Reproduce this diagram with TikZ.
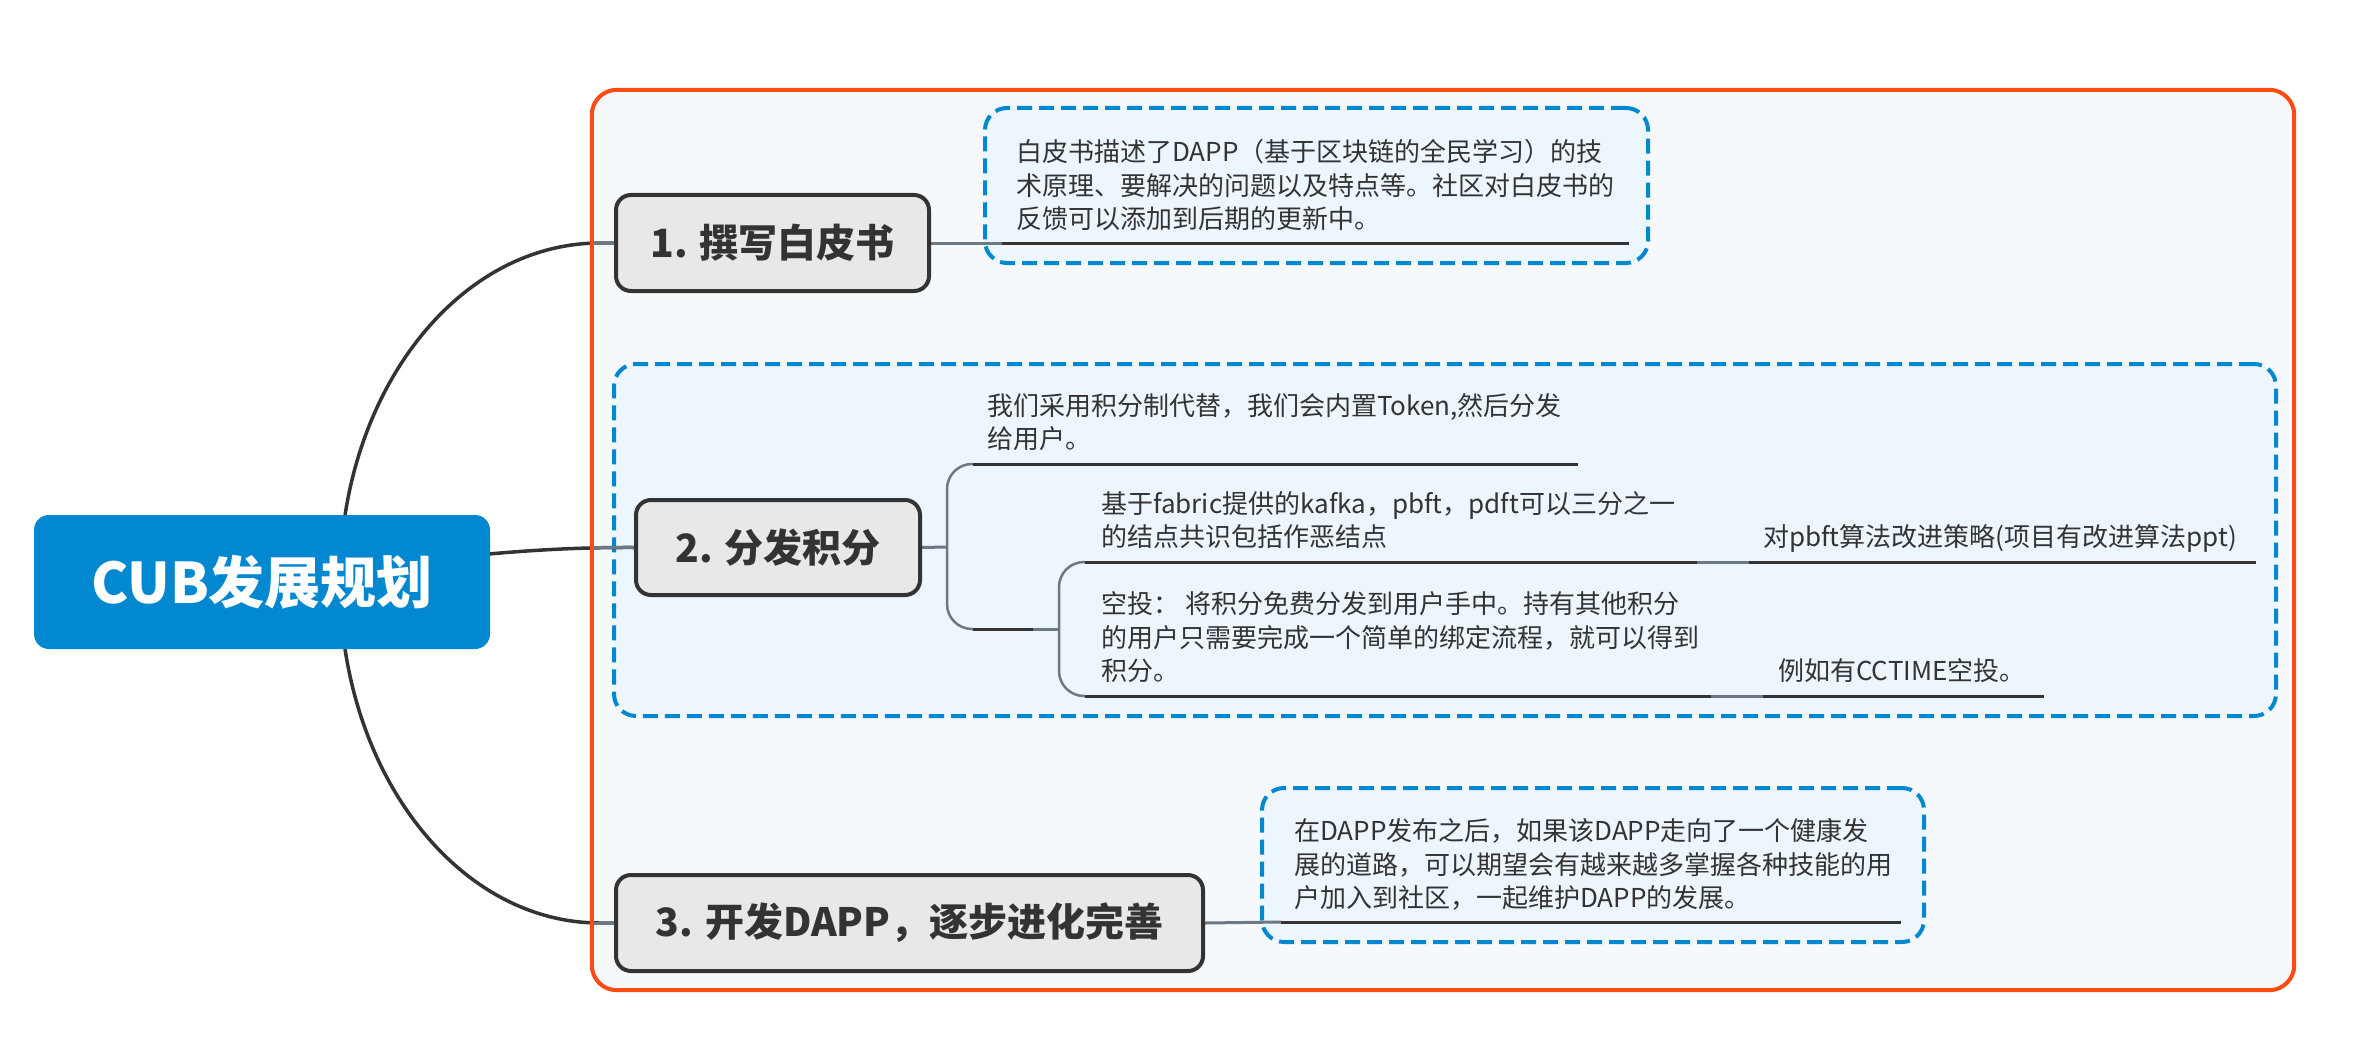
\documentclass[tikz,border=0pt]{standalone}
\usepackage{fontspec}
\setmainfont{Noto Sans CJK SC}
\definecolor{orangeb}{HTML}{FF4A12}
\definecolor{panelfill}{HTML}{F5F9FC}
\definecolor{dashblue}{HTML}{0288D1}
\definecolor{notefill}{HTML}{EEF6FD}
\definecolor{rootblue}{HTML}{0288D1}
\definecolor{topicfill}{HTML}{E8E8E8}
\definecolor{darkline}{HTML}{333333}
\definecolor{grayline}{HTML}{6E7885}
\definecolor{textdark}{HTML}{333333}
\pgfdeclarelayer{back}
\pgfdeclarelayer{links}
\pgfdeclarelayer{framelayer}
\pgfsetlayers{back,links,framelayer,main}
\tikzset{
  rootnode/.style={fill=rootblue, rounded corners=15pt, inner sep=0pt, text=white,
    font=\bfseries\fontsize{56}{64}\selectfont, minimum width=456pt, minimum height=134pt},
  topic/.style={draw=darkline, line width=4pt, fill=topicfill, rounded corners=15pt,
    inner sep=0pt, text=textdark, font=\bfseries\fontsize{39}{46}\selectfont, minimum height=96pt},
  notebox/.style={draw=dashblue, fill=notefill, line width=4pt, dash pattern=on 15pt off 7pt,
    rounded corners=22pt, inner sep=0pt},
  panel/.style={fill=panelfill, rounded corners=25pt, inner sep=0pt},
  notetext/.style={anchor=south west, inner sep=0pt, align=left, text=textdark,
    font=\fontsize{26}{33.5}\selectfont},
  rootlink/.style={draw=darkline, line width=3.5pt},
  graylink/.style={draw=grayline, line width=3pt},
  bracketlink/.style={draw=grayline, line width=2.5pt, rounded corners=25pt},
  underline/.style={draw=darkline, line width=3pt}
}
\begin{document}
\begin{tikzpicture}[x=1pt,y=-1pt]
\useasboundingbox (0,0) rectangle (2373,1051);

% containers (background layer)
\begin{pgfonlayer}{back}
  \fill[white] (0,0) rectangle (2373,1051);
  \node[panel, minimum width=1702pt, minimum height=900pt] (panel) at (1443,540) {};
  \node[notebox, minimum width=663pt, minimum height=155pt] (nb1) at (1316.5,185.5) {};
  \node[notebox, minimum width=1662pt, minimum height=352pt] (nb2) at (1445,540) {};
  \node[notebox, minimum width=662pt, minimum height=154pt] (nb3) at (1593,865) {};
\end{pgfonlayer}

% main nodes
\node[rootnode] (root) at (262,582) {CUB发展规划};
\node[topic, minimum width=313pt] (n1) at (772.5,243) {1. 撰写白皮书};
\node[topic, minimum width=284pt, minimum height=95pt] (n2) at (778,547.5) {2. 分发积分};
\node[topic, minimum width=587pt] (n3) at (909.5,923) {3. 开发DAPP，逐步进化完善};

% texts
\node[notetext] (t1) at (1016,239) {\strut 白皮书描述了DAPP（基于区块链的全民学习）的技\\
\strut 术原理、要解决的问题以及特点等。社区对白皮书的\\
\strut 反馈可以添加到后期的更新中。};
\node[notetext] (t2a) at (987,459) {\strut 我们采用积分制代替，我们会内置Token,然后分发\\
\strut 给用户。};
\node[notetext] (t2b1) at (1101,557) {\strut 基于fabric提供的kafka，pbft，pdft可以三分之一\\
\strut 的结点共识包括作恶结点};
\node[notetext] (t2b1a) at (1763,557) {\strut 对pbft算法改进策略(项目有改进算法ppt)};
\node[notetext] (t2b2) at (1101,691) {\strut 空投： 将积分免费分发到用户手中。持有其他积分\\
\strut 的用户只需要完成一个简单的绑定流程，就可以得到\\
\strut 积分。};
\node[notetext] (t2b2a) at (1778,691) {\strut 例如有CCTIME空投。};
\node[notetext] (t3) at (1294,918) {\strut 在DAPP发布之后，如果该DAPP走向了一个健康发\\
\strut 展的道路，可以期望会有越来越多掌握各种技能的用\\
\strut 户加入到社区，一起维护DAPP的发展。};

% coordinates for connector ends
\coordinate (k1) at (600,243);
\coordinate (k3) at (600,923);
\coordinate (u1s) at (1002,243);
\coordinate (u1e) at (1629,243);
\coordinate (b1x) at (947,547);
\coordinate (u2at) at (973,464);
\coordinate (u2ae) at (1578,464);
\coordinate (u2bs) at (973,629);
\coordinate (u2be) at (1033,629);
\coordinate (b2x) at (1059,629);
\coordinate (u2b1s) at (1085,562);
\coordinate (u2b1e) at (1697,562);
\coordinate (u2b1as) at (1749,562);
\coordinate (u2b1ae) at (2256,562);
\coordinate (u2b2s) at (1085,696);
\coordinate (u2b2e) at (1711,696);
\coordinate (u2b2as) at (1763,696);
\coordinate (u2b2ae) at (2044,696);
\coordinate (u3s) at (1281,922);
\coordinate (u3e) at (1901,922);

\begin{pgfonlayer}{links}
  % root curves
  \draw[rootlink] ([xshift=78pt]root.center) .. controls (340,395) and (456,243) .. (k1) -- (n1.west);
  \draw[rootlink] (root.center) .. controls (420,560) and (520,547) .. (n2.west);
  \draw[rootlink] ([xshift=78pt]root.center) .. controls (340,770) and (456,923) .. (k3) -- (n3.west);
  \draw[graylink] ([xshift=-24pt]n1.west) -- (n1.west);
  \draw[graylink] ([xshift=-44pt]n2.west) -- (n2.west);
  \draw[graylink] ([xshift=-24pt]n3.west) -- (n3.west);
  % branch 1
  \draw[graylink] (n1.east) -- (u1s);
  \draw[underline] (u1s) -- (u1e);
  % branch 2
  \draw[graylink] (n2.east) -- (b1x);
  \draw[bracketlink] (u2at) -- (947,464) -- (947,629) -- (u2bs);
  \draw[underline] (u2at) -- (u2ae);
  \draw[underline] (u2bs) -- (u2be);
  \draw[graylink] (u2be) -- (b2x);
  \draw[bracketlink] (u2b1s) -- (1059,562) -- (1059,696) -- (u2b2s);
  \draw[underline] (u2b1s) -- (u2b1e);
  \draw[graylink] (u2b1e) -- (u2b1as);
  \draw[underline] (u2b1as) -- (u2b1ae);
  \draw[underline] (u2b2s) -- (u2b2e);
  \draw[graylink] (u2b2e) -- (u2b2as);
  \draw[underline] (u2b2as) -- (u2b2ae);
  % branch 3
  \draw[graylink] (n3.east) -- (u3s);
  \draw[underline] (u3s) -- (u3e);
\end{pgfonlayer}

\begin{pgfonlayer}{framelayer}
  \draw[orangeb, line width=4pt, rounded corners=25pt] (panel.north west) rectangle (panel.south east);
\end{pgfonlayer}
\end{tikzpicture}
\end{document}
